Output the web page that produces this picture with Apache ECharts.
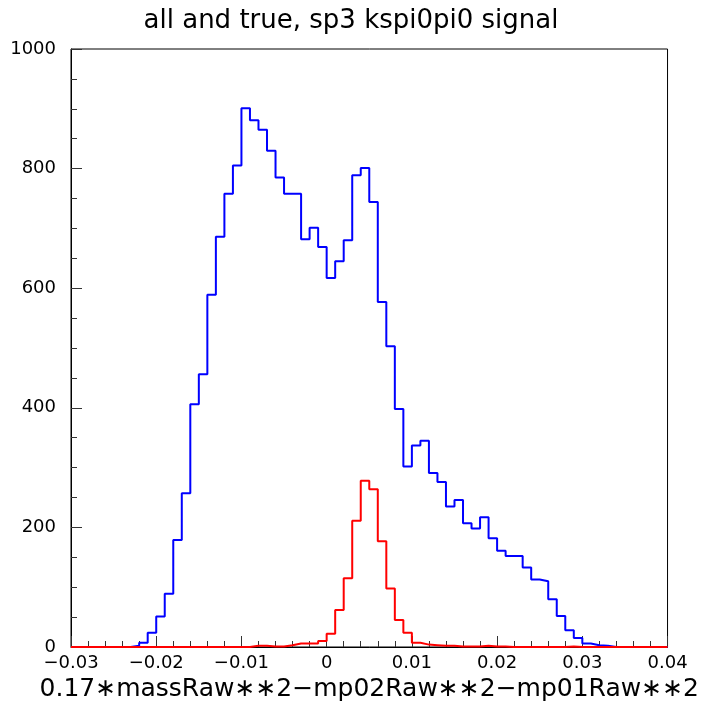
<!DOCTYPE html>
<html>
<head>
<meta charset="UTF-8">
<title>all and true, sp3 kspi0pi0 signal</title>
<style>
    * { margin: 0; }
    html, body { width: 702px; height: 708px; background: #fff; overflow: hidden; }
    #chart { width: 702px; height: 708px; }
</style>
<script src="https://cdn.jsdelivr.net/npm/echarts@6/dist/echarts.min.js"></script>
</head>
<body>
<div id="chart"></div>
<script>
    // histogram binning: 70 bins of 0.001 from -0.03 to 0.04
    const binLow = -0.03;
    const binWidth = 0.001;

    // all candidates (blue)
    const allCounts = [
        0, 0, 0, 0, 0, 0, 0, 2, 7, 24,
        51, 89, 179, 257, 406, 456, 589, 686, 758, 805,
        901, 881, 865, 830, 785, 758, 758, 682, 701, 669,
        617, 645, 680, 789, 801, 744, 577, 503, 398, 302,
        337, 345, 291, 276, 235, 246, 207, 198, 217, 182,
        161, 152, 152, 133, 113, 110, 80, 52, 28, 15,
        6, 3, 2, 0, 0, 0, 0, 0, 0, 0
    ];
    // truth-matched (red)
    const trueCounts = [
        0, 0, 0, 0, 0, 0, 0, 0, 0, 0,
        0, 0, 0, 0, 0, 0, 0, 0, 0, 0,
        0, 2, 2, 1, 1, 3, 6, 6, 6, 10,
        22, 62, 115, 211, 278, 264, 177, 98, 45, 24,
        7, 4, 3, 2, 2, 1, 1, 1, 2, 1,
        1, 0, 0, 0, 0, 0, 0, 0, 1, 0,
        0, 0, 0, 0, 0, 0, 0, 0, 0, 0
    ];

    const titleText = 'all and true, sp3 kspi0pi0 signal';
    const xTitle = '0.17\u2217massRaw\u2217\u22172\u2212mp02Raw\u2217\u22172\u2212mp01Raw\u2217\u22172';

    // step points at bin low edges, plus closing point at upper edge
    function toSteps(counts) {
        let pts = [];
        for (let i = 0; i < counts.length; i++) {
            pts.push([+(binLow + i * binWidth).toFixed(4), counts[i]]);
        }
        pts.push([+(binLow + counts.length * binWidth).toFixed(4), counts[counts.length - 1]]);
        return pts;
    }

    function fmtX(v) {
        if (Math.abs(v) < 1e-9) return '0';
        return (v < 0 ? '\u2212' : '') + Math.abs(v).toFixed(2);
    }

    const font = 'DejaVu Sans';
    var myChart = echarts.init(document.getElementById('chart'));
    myChart.setOption({
        animation: false,
        title: {
            text: titleText,
            left: 'center',
            top: 3,
            textStyle: { fontFamily: font, fontSize: 26, fontWeight: 'normal', color: '#000' }
        },
        grid: {
            left: 71, right: 30, top: 49, bottom: 61,
            show: true, borderColor: '#000', borderWidth: 1, backgroundColor: 'transparent'
        },
        xAxis: {
            type: 'value',
            min: -0.03, max: 0.04, interval: 0.01,
            name: xTitle,
            nameLocation: 'middle',
            nameGap: 29,
            nameTextStyle: { fontFamily: font, fontSize: 25, color: '#000' },
            axisLine: { show: true, onZero: false, lineStyle: { color: '#000', width: 1 } },
            axisTick: { show: true, inside: true, length: 11, lineStyle: { color: '#333' } },
            minorTick: { show: true, splitNumber: 5, length: 6, lineStyle: { color: '#333' } },
            splitLine: { show: false },
            axisLabel: { fontFamily: font, fontSize: 18, color: '#000', margin: 7, formatter: fmtX }
        },
        yAxis: {
            type: 'value',
            min: 0, max: 1000, interval: 200,
            axisLine: { show: true, onZero: false, lineStyle: { color: '#000', width: 1 } },
            axisTick: { show: true, inside: true, length: 11, lineStyle: { color: '#333' } },
            minorTick: { show: true, splitNumber: 4, length: 6, lineStyle: { color: '#333' } },
            splitLine: { show: false },
            axisLabel: { fontFamily: font, fontSize: 18, color: '#000', margin: 15, formatter: v => String(v) }
        },
        series: [
            {
                name: 'all',
                type: 'line',
                step: 'end',
                symbol: 'none',
                data: toSteps(allCounts),
                lineStyle: { color: '#0000ff', width: 2 }
            },
            {
                name: 'true',
                type: 'line',
                step: 'end',
                symbol: 'none',
                data: toSteps(trueCounts),
                lineStyle: { color: '#ff0000', width: 2 }
            }
        ]
    });
</script>
</body>
</html>
